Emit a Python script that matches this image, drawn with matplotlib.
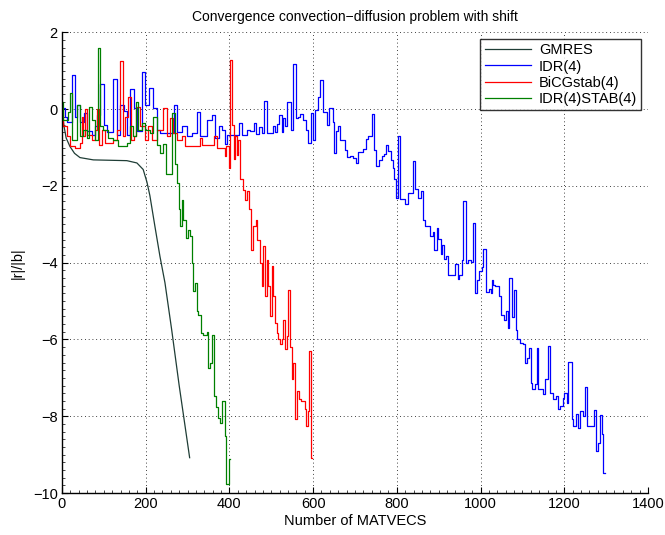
import matplotlib
matplotlib.use("Agg")
import matplotlib.pyplot as plt
from matplotlib.ticker import MultipleLocator

plt.rcParams['font.family'] = ['Liberation Sans', 'DejaVu Sans']

# GMRES (smooth curve)
gmres_x = [0, 5, 10, 19, 30, 43, 75, 155, 179, 194, 203, 210, 222, 234, 246, 262, 280, 305]
gmres_y = [0.0, -0.45, -0.75, -0.97, -1.15, -1.26, -1.32, -1.34, -1.40, -1.57, -1.9, -2.25,
           -3.05, -3.83, -4.52, -5.74, -7.2, -9.08]

# IDR(4): step start positions and levels
idr_x = [0, 8, 12, 24, 30, 36, 44, 52, 60, 72, 80, 84, 92, 100, 108, 123, 131, 139, 147, 155,
         163, 171, 179, 191, 199, 209, 217, 227, 235, 267, 275, 287, 299, 311, 323, 330, 346,
         358, 366, 374, 382, 390, 394, 424, 429, 441,
         449, 459, 463, 471, 477, 482, 489, 503, 509, 514, 519, 525, 529, 534, 538, 546, 551,
         559, 565, 569, 575, 583, 588, 594, 599, 604, 611, 616, 623, 634, 639, 647, 650, 655,
         660, 664, 676, 680, 688, 696, 702, 708, 720, 726, 732, 740, 745, 750, 758, 764, 769,
         775, 780, 785, 790, 794, 799, 803, 807, 819, 827, 838, 843, 851, 857, 863,
         867, 879, 887, 889, 895, 899, 905, 909, 913, 917, 923, 939, 945, 949, 955, 959, 965,
         971, 976, 981, 987, 991, 997, 1003, 1007, 1013, 1019, 1024, 1027, 1030, 1035, 1045,
         1050, 1056, 1061, 1065, 1069, 1074, 1081, 1085, 1088, 1094, 1101, 1106, 1110, 1115,
         1120, 1124, 1129, 1134, 1138, 1150, 1155, 1160, 1167, 1174, 1180, 1186, 1190, 1196,
         1200, 1206, 1210, 1218, 1222, 1228, 1234, 1238, 1244, 1250, 1255, 1271, 1276, 1281,
         1285, 1290, 1293, 1297]
idr_y = [0.03, -0.2, -0.32, 0.88, -0.19, 0.12, -0.32, -0.1, -0.58, -0.66, -0.45, -0.15, 0.65,
         -0.4, -0.6, 0.79, -0.66, 0.12, -0.05, -0.66, 0.53, 0.03, -0.58, 0.97, 0.12, 0.55,
         0.03, -0.53, -0.62, 0.12, -0.6, -0.45, -0.71, -0.62, -0.06, -0.7, -0.27,
         -0.14, -0.75, -0.45, -0.53, -0.9, -0.66, -0.36, -0.66, -0.53,
         -0.58, -0.36, -0.64, -0.47, -0.62, 0.22, -0.62, -0.45, -0.6, -0.38, -0.14, -0.6,
         -0.23, -0.43, 0.2, -0.53, 1.18, -0.23, -0.19, -0.13, -0.27, -0.53, -0.88, -0.1,
         -0.8, -0.01, 0.33, 0.77, -0.06, -0.4, 0.03, -0.32, -1.14, -0.58, -0.43, -0.79,
         -1.05, -1.25, -1.22, -1.27, -1.4, -1.12, -1.04, -0.78, -0.71, -0.12, -1.07, -1.49,
         -1.31, -1.21, -1.16, -0.92, -1.1, -1.31, -1.53, -1.83, -2.31, -0.69, -2.34, -2.46,
         -2.18, -1.36, -2.08, -2.31, -2.14, -2.88,
         -3.05, -3.31, -3.2, -3.66, -3.09, -3.38, -3.76, -3.53, -3.9, -3.83, -4.31, -4.02,
         -4.42, -4.31, -3.93, -2.4, -4.0, -3.94, -3.99, -2.96, -4.79, -4.44, -4.22, -4.11,
         -3.64, -4.77, -4.68, -4.8, -4.46, -4.59, -4.61, -4.87, -5.35, -5.48, -5.25, -5.7,
         -4.39, -5.42, -4.72, -5.74, -5.98, -6.09, -6.13, -6.61, -6.48, -6.23, -7.14, -7.3,
         -7.17, -6.22, -7.3, -7.43, -7.04, -6.17, -7.39, -7.54, -7.47, -7.8, -7.74, -7.52,
         -7.39, -7.65, -6.59, -8.06, -8.26, -7.95, -8.3, -7.86, -7.99, -7.23, -8.26, -7.85,
         -8.91, -8.69, -7.96, -8.47, -9.47, -9.47]

# BiCGstab(4)
bicg_x = [0, 3, 11, 19, 30, 43, 47, 51, 55, 59, 71, 79, 83, 89, 95, 103, 123, 131, 139, 145,
          150, 158, 164, 172, 178, 186, 198, 206, 214, 226, 242, 250, 258, 266, 274, 286, 294,
          330, 334, 362, 370, 389, 393, 399, 402, 406, 410, 413, 417, 421, 425, 432, 437, 443,
          447, 451, 457, 463, 467, 473, 477, 481, 485, 489, 493, 497, 501, 505, 509, 513, 517,
          521, 525, 529, 533, 537, 541, 545, 549, 553, 557, 562, 567, 572, 580, 584, 588, 591,
          594, 598]
bicg_y = [0.0, -0.45, -0.71, -0.95, -1.0, -0.88, -0.19, -0.71, 0.0, -0.66, -0.8, -0.53, 0.0,
          -0.93, -0.53, -0.88, -0.8, -0.53, 1.25, -0.71, -0.19, 0.33, -0.8, -0.71, 0.07, -0.45,
          -0.8, -0.45, -0.8, -0.53, 0.03, -0.71, -0.23, -0.62, -0.8, -0.71, -0.97, -0.75, -0.93,
          -0.71, -1.01, -1.23, -0.97, -1.53, 1.29, -0.4, -1.3, -0.7, -1.2, -0.8, -1.83, -2.1,
          -2.36, -2.14, -2.6, -3.66, -3.05, -2.88, -3.4, -4.0, -4.61, -3.57, -4.87, -3.92,
          -4.61, -5.39, -4.09, -4.87, -5.57, -5.83, -6.0, -6.13, -6.0, -5.48, -6.26, -5.9,
          -4.7, -6.2, -7.04, -6.6, -8.08, -7.34, -7.56, -7.6, -7.82, -8.25, -7.86, -6.3, -9.08,
          -9.08]

# IDR(4)STAB(4)
stab_x = [0, 3, 15, 20, 25, 35, 43, 51, 59, 65, 71, 79, 85, 91, 99, 111, 123, 135, 155, 162,
          170, 177, 182, 190, 198, 210, 218, 226, 234, 242, 248, 264, 270, 275, 279, 282, 286,
          290, 296, 300, 306, 310, 314, 318, 322, 326, 331, 336, 346, 350, 354, 358, 363, 369,
          373, 377, 382, 389, 393, 399, 401]
stab_y = [0.2, -0.27, -0.06, 0.42, -0.8, 0.12, -0.71, -0.53, -0.75, 0.07, -0.27, -0.8, 1.59,
          -0.45, -0.53, -0.75, -0.8, -0.97, -0.88, -0.45, -0.71, 0.2, -0.53, -0.36, -0.53,
          -0.62, -0.19, -0.93, -1.15, -0.9, -1.7, -0.1, -1.44, -1.92, -2.6, -3.05, -2.36,
          -2.88, -3.35, -3.14, -3.3, -4.0, -4.74, -4.52, -5.26, -5.35, -5.83, -5.87, -5.8,
          -6.74, -6.6, -5.87, -7.47, -7.75, -8.04, -8.17, -7.6, -8.52, -9.77, -9.12, -9.12]

fig = plt.figure(figsize=(6.65, 5.35), dpi=100)
ax = fig.add_axes([0.0932, 0.0785, 0.8812, 0.8608])

lw = 0.9
ax.plot(gmres_x, gmres_y, color='#1f3d36', lw=lw, label='GMRES')
ax.plot(idr_x, idr_y, color='#0000ff', lw=lw, drawstyle='steps-post', label='IDR(4)')
ax.plot(bicg_x, bicg_y, color='#ff0000', lw=lw, drawstyle='steps-post', label='BiCGstab(4)')
ax.plot(stab_x, stab_y, color='#008000', lw=lw, drawstyle='steps-post', label='IDR(4)STAB(4)')

ax.set_xlim(0, 1400)
ax.set_ylim(-10, 2)
ax.set_xticks(range(0, 1401, 200))
ax.set_yticks(range(-10, 3, 2))
ax.xaxis.set_minor_locator(MultipleLocator(20))
ax.yaxis.set_minor_locator(MultipleLocator(0.2))
ax.tick_params(which='major', direction='in', length=4, width=0.8, labelsize=10.5, pad=3)
ax.tick_params(which='minor', direction='in', length=2, width=0.5)

for s in ['top', 'right']:
    ax.spines[s].set_visible(False)
for s in ['left', 'bottom']:
    ax.spines[s].set_linewidth(1.0)

ax.grid(True, which='major', color='black', linestyle=(0, (1, 3.5)), linewidth=0.6)

ax.set_title('Convergence convection\u2212diffusion problem with shift', fontsize=10, pad=8)
ax.set_xlabel('Number of MATVECS', fontsize=10.5, labelpad=2)
ax.set_ylabel('|r|/|b|', fontsize=10.5, labelpad=6)

leg = ax.legend(loc='upper right', fontsize=10.5, frameon=True, fancybox=False,
                borderpad=0.3, handlelength=3.2, labelspacing=0.15, handletextpad=0.5,
                borderaxespad=0.45)
leg.get_frame().set_edgecolor('black')
leg.get_frame().set_linewidth(1.0)

fig.savefig('out.png', dpi=100)
